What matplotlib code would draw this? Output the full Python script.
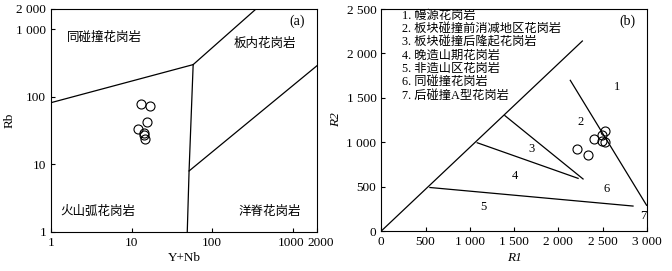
import matplotlib
matplotlib.use("Agg")
import matplotlib.pyplot as plt
from matplotlib.ticker import FixedLocator, NullLocator

plt.rcParams['font.family'] = ['Liberation Serif', 'Noto Sans CJK SC']
plt.rcParams['font.size'] = 9.5

# --- (a) Rb vs Y+Nb ---
ynb = [13.2, 17, 15.6, 12, 14.3, 14.2, 14.6]
rb = [78, 73, 42, 33.6, 29.3, 27, 23.9]

# boundary lines (Pearce-type)
syn_vag_x = [1, 58]
syn_vag_y = [82, 300]
syn_wpg_x = [58, 350]
syn_wpg_y = [300, 2000]
vag_wpg_x = [58, 51.6, 49]
vag_wpg_y = [300, 8, 1]
wpg_org_x = [51.6, 2000]
wpg_org_y = [8, 290]

# --- (b) R1-R2 ---
r1 = [2531, 2489, 2402, 2493, 2531, 2204, 2335]
r2 = [1126, 1085, 1039, 1017, 1006, 927, 852]

diag_x = [0, 2270]
diag_y = [0, 2140]
line1_x = [2134, 2995]
line1_y = [1697, 290]
line3_x = [1395, 2278]
line3_y = [1300, 586]
line4_x = [1083, 2222]
line4_y = [994, 593]
line5_x = [549, 2842]
line5_y = [490, 281]

legend_lines = ["1. 幔源花岗岩", "2. 板块碰撞前消减地区花岗岩", "3. 板块碰撞后隆起花岗岩",
                "4. 晚造山期花岗岩", "5. 非造山区花岗岩", "6. 同碰撞花岗岩", "7. 后碰撞A型花岗岩"]
zone_labels = ["1", "2", "3", "4", "5", "6", "7"]
zone_x = [2657, 2255, 1701, 1506, 1156, 2548, 2959]
zone_y = [1625, 1224, 923, 623, 274, 469, 169]

fig = plt.figure(figsize=(6.72, 2.71), dpi=100)
ax1 = fig.add_axes([0.0759, 0.144, 0.396, 0.823])
ax2 = fig.add_axes([0.5674, 0.1476, 0.3954, 0.819])

lw = 0.9
for xs, ys in [(syn_vag_x, syn_vag_y), (syn_wpg_x, syn_wpg_y),
               (vag_wpg_x, vag_wpg_y), (wpg_org_x, wpg_org_y)]:
    ax1.plot(xs, ys, color='black', lw=lw)
ax1.plot(ynb, rb, 'o', ms=6.5, mfc='none', mec='black', mew=0.8)
ax1.set_xscale('log')
ax1.set_yscale('log')
ax1.set_xlim(1, 2000)
ax1.set_ylim(1, 2000)
ax1.xaxis.set_major_locator(FixedLocator([1, 10, 100, 1000, 2000]))
ax1.set_xticklabels(['1', '10', '100', '', ''])
# 1000 and 2000 sit close together: nudge their labels apart
for val, dx in [(1000, -1.5), (2000, 2.5)]:
    ax1.annotate(str(val), xy=(val, 0), xycoords=('data', 'axes fraction'),
                 xytext=(dx, -3.5), textcoords='offset points', ha='center', va='top')
ax1.yaxis.set_major_locator(FixedLocator([1, 10, 100, 1000, 2000]))
ax1.set_yticklabels(['1', '10', '100', '1 000', '2 000'])
ax1.xaxis.set_minor_locator(NullLocator())
ax1.yaxis.set_minor_locator(NullLocator())
ax1.set_xlabel('Y+Nb', labelpad=2)
ax1.set_ylabel('Rb')
ax1.yaxis.set_label_coords(-0.132, 0.5)
ax1.text(1.56, 750, '同碰撞花岗岩', fontsize=9, va='center')
ax1.text(182, 610, '板内花岗岩', fontsize=9, va='center')
ax1.text(1.29, 1.95, '火山弧花岗岩', fontsize=9, va='center')
ax1.text(209, 1.95, '洋脊花岗岩', fontsize=9, va='center')
ax1.text(0.955, 0.945, '(a)', transform=ax1.transAxes, ha='right', va='center', fontsize=10)

for xs, ys in [(diag_x, diag_y), (line1_x, line1_y), (line3_x, line3_y),
               (line4_x, line4_y), (line5_x, line5_y)]:
    ax2.plot(xs, ys, color='black', lw=lw)
ax2.plot(r1, r2, 'o', ms=6.5, mfc='none', mec='black', mew=0.8)
ax2.set_xlim(0, 3000)
ax2.set_ylim(0, 2500)
ax2.set_xticks([0, 500, 1000, 1500, 2000, 2500, 3000])
ax2.set_xticklabels(['0', '500', '1 000', '1 500', '2 000', '2 500', '3 000'])
ax2.set_yticks([0, 500, 1000, 1500, 2000, 2500])
ax2.set_yticklabels(['0', '500', '1 000', '1 500', '2 000', '2 500'])
ax2.set_xlabel('R1', fontstyle='italic', labelpad=3)
ax2.set_ylabel('R2', fontstyle='italic', labelpad=3)
for i, t in enumerate(legend_lines):
    ax2.text(230, 2425 - i * 150, t, fontsize=8.8, va='center')
for t, x, y in zip(zone_labels, zone_x, zone_y):
    ax2.text(x, y, t, ha='center', va='center', fontsize=9)
ax2.text(0.955, 0.945, '(b)', transform=ax2.transAxes, ha='right', va='center', fontsize=10)

for ax in (ax1, ax2):
    ax.tick_params(direction='in', length=3, width=0.8, which='both')
    for s in ax.spines.values():
        s.set_linewidth(0.8)

fig.savefig('out.png', dpi=100)
